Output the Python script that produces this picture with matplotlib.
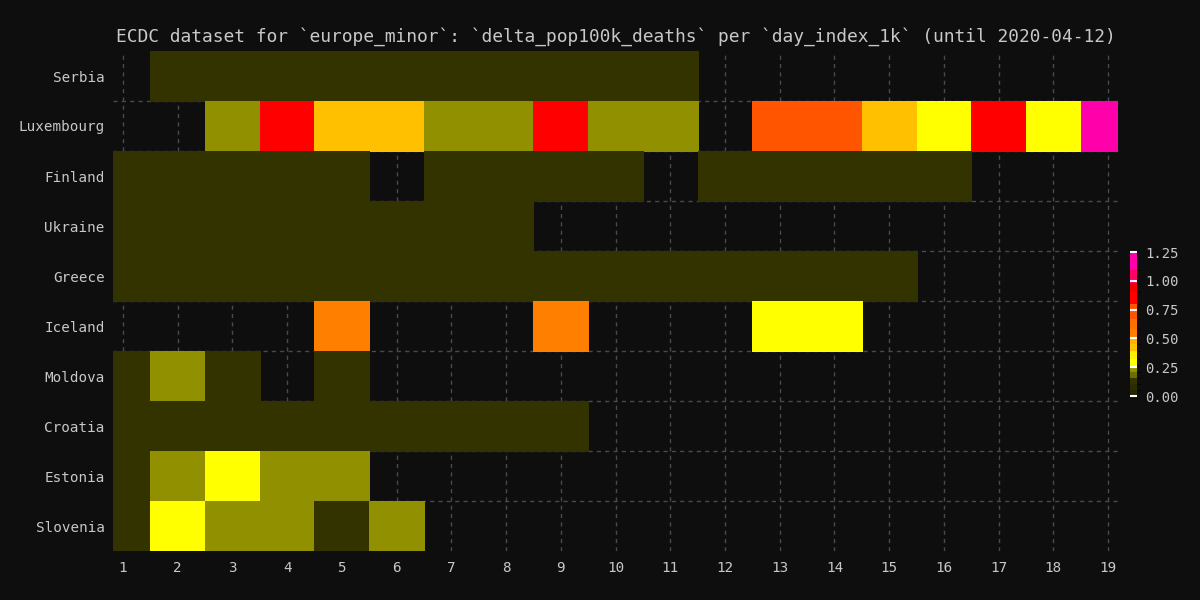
import numpy as np
import matplotlib
matplotlib.use("Agg")
import matplotlib.pyplot as plt
from matplotlib.colors import ListedColormap, BoundaryNorm

# dados (None = sem valor)
countries = ["Serbia", "Luxembourg", "Finland", "Ukraine", "Greece",
             "Iceland", "Moldova", "Croatia", "Estonia", "Slovenia"]
days = list(range(1, 20))

N = None
serbia     = [N, .11, .11, .11, .11, .11, .11, .11, .11, .11, .11, N, N, N, N, N, N, N, N]
luxembourg = [N, N, .23, .85, .44, .44, .23, .23, .85, .23, .23, N, .72, .72, .44, .30, .85, .30, 1.15]
finland    = [.12, .12, .12, .12, .12, N, .12, .12, .12, .12, N, .12, .12, .12, .12, .12, N, N, N]
ukraine    = [.11, .11, .11, .11, .11, .11, .11, .11, N, N, N, N, N, N, N, N, N, N, N]
greece     = [.11, .11, .11, .11, .11, .11, .11, .11, .11, .11, .11, .11, .11, .11, .11, N, N, N, N]
iceland    = [N, N, N, N, .56, N, N, N, .56, N, N, N, .30, .30, N, N, N, N, N]
moldova    = [.12, .23, .12, N, .12, N, N, N, N, N, N, N, N, N, N, N, N, N, N]
croatia    = [.11, .11, .11, .11, .11, .11, .11, .11, .11, N, N, N, N, N, N, N, N, N, N]
estonia    = [.13, .23, .30, .23, .23, N, N, N, N, N, N, N, N, N, N, N, N, N, N]
slovenia   = [.12, .30, .23, .23, .12, .23, N, N, N, N, N, N, N, N, N, N, N, N, N]

rows = [serbia, luxembourg, finland, ukraine, greece,
        iceland, moldova, croatia, estonia, slovenia]

# escala de cores em faixas
limites = [0, .05, .10, .16, .21, .26, .32, .39, .45, .50, .58, .67, .80, .90, .98, 1.09, 1.25]
cores = ["#262600", "#2c2c00", "#333300", "#6e6e00", "#909000", "#ffff00",
         "#ffee00", "#ffc000", "#ffb000", "#ff8000", "#ff7000", "#ff5500",
         "#ff0000", "#ee0000", "#ff0066", "#ff00aa"]
cmap = ListedColormap(cores)
norm = BoundaryNorm(limites, cmap.N)

bg = "#0e0e0e"
fg = "#c8c8c8"
plt.rcParams["font.family"] = ["DejaVu Sans Mono"]

fig = plt.figure(figsize=(12, 6), dpi=100, facecolor=bg)
ax = fig.add_axes([113/1200, 1 - 551/600, 1005/1200, 500/600])
ax.set_facecolor(bg)

Z = np.array([[np.nan if v is None else v for v in r] for r in rows], dtype=float)
Z = np.ma.masked_invalid(Z)
xe = np.arange(len(days) + 1) + 0.5
ye = np.arange(len(countries) + 1)
ax.pcolormesh(xe, ye, Z, cmap=cmap, norm=norm, edgecolors="face", linewidth=0.6, zorder=2)

ax.set_xlim(0.82, 19.18)
ax.set_ylim(len(countries), 0)
ax.set_xticks(days)
ax.set_xticklabels([str(d) for d in days])
ax.set_yticks(np.arange(len(countries)) + 0.5)
ax.set_yticklabels(countries)
ax.set_yticks(np.arange(1, len(countries)), minor=True)

ax.grid(True, axis="x", which="major", color="#4a4a4a", linestyle=(0, (3, 3)), linewidth=1, zorder=0)
ax.grid(True, axis="y", which="minor", color="#4a4a4a", linestyle=(0, (3, 3)), linewidth=1, zorder=0)
ax.set_axisbelow(True)
ax.tick_params(which="both", length=0, colors=fg, labelsize=10.3)
ax.tick_params(axis="x", pad=7)
ax.tick_params(axis="y", pad=6)
for s in ax.spines.values():
    s.set_visible(False)

ax.set_title("ECDC dataset for `europe_minor`: `delta_pop100k_deaths` per `day_index_1k` (until 2020-04-12)",
             color=fg, fontsize=12.9, pad=7)

cax = fig.add_axes([1130/1200, 1 - 396/600, 7/1200, 144/600])
cb = fig.colorbar(plt.cm.ScalarMappable(norm=norm, cmap=cmap), cax=cax,
                  spacing="proportional", ticks=[0, .25, .5, .75, 1.0, 1.25])
cb.outline.set_visible(False)
cb.ax.set_yticklabels(["0.00", "0.25", "0.50", "0.75", "1.00", "1.25"])
cb.ax.tick_params(direction="in", length=5.2, width=1.5, color="white", labelcolor=fg, labelsize=10, pad=6)

fig.savefig("out.png", dpi=100, facecolor=bg)
